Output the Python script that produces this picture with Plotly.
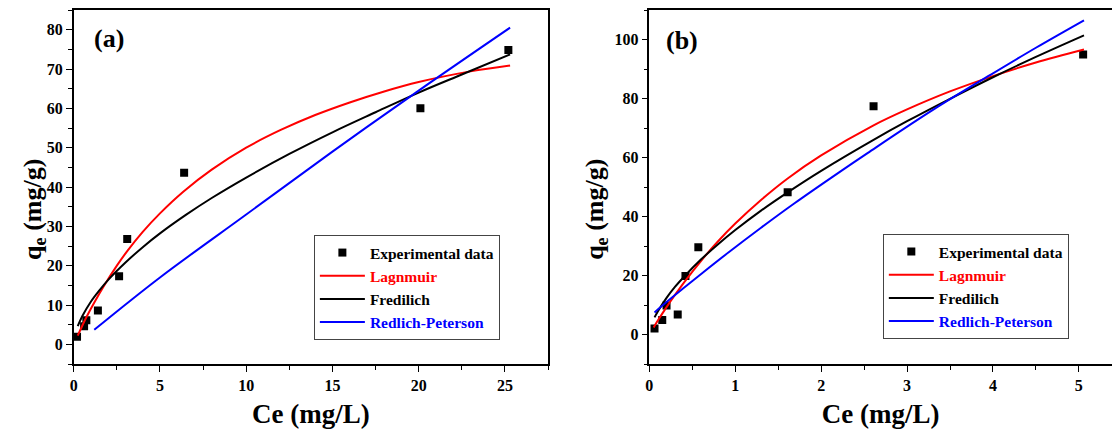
import plotly.graph_objects as go

# ---------------- Panel (a) ----------------
a_exp_ce = [0.19, 0.6, 0.73, 1.4, 2.63, 3.1, 6.4, 20.1, 25.2]
a_exp_qe = [1.9, 4.6, 6.1, 8.6, 17.3, 26.8, 43.6, 60.0, 74.8]

a_lang_ce = [0.23, 0.5, 0.77, 1.2, 1.73, 2.5, 3.1, 4, 5, 6.35, 8, 10, 12, 14, 16, 18, 20, 23, 25.3]
a_lang_qe = [2.2, 4.8, 7.2, 10.7, 14.7, 20.0, 23.7, 28.6, 33.3, 38.8, 44.4, 50.0, 54.5, 58.3, 61.5, 64.3, 66.7, 69.4, 70.9]

a_freu_ce = [0.23, 0.5, 1, 1.5, 2, 3, 4, 5, 6.5, 8, 10, 12.5, 15, 17.5, 20, 22.5, 25.3]
a_freu_qe = [4.6, 7.2, 10.9, 13.8, 16.4, 20.8, 24.7, 28.2, 32.9, 37.2, 42.4, 48.4, 53.9, 59.0, 64.0, 68.6, 73.7]

a_rp_ce = [1.19, 5, 10, 15, 20, 25.3]
a_rp_qe = [3.7, 17.0, 33.0, 49.0, 64.5, 80.5]

# ---------------- Panel (b) ----------------
b_exp_ce = [0.06, 0.15, 0.2, 0.33, 0.42, 0.57, 1.61, 2.61, 5.05]
b_exp_qe = [2.0, 4.9, 9.8, 6.8, 19.8, 29.6, 48.2, 77.4, 94.9]

b_lang_ce = [0.05, 0.1, 0.2, 0.3, 0.42, 0.6, 0.8, 1.0, 1.3, 1.61, 2.0, 2.61, 3.0, 3.5, 4.0, 4.5, 5.06]
b_lang_qe = [2.4, 4.8, 9.3, 13.5, 18.3, 24.9, 31.6, 37.6, 45.6, 52.9, 60.7, 70.9, 76.3, 82.4, 87.6, 92.2, 96.6]

b_freu_ce = [0.06, 0.1, 0.2, 0.3, 0.42, 0.6, 0.8, 1.0, 1.3, 1.61, 2.0, 2.61, 3.0, 3.5, 4.0, 4.5, 5.06]
b_freu_qe = [5.8, 7.9, 12.4, 16.2, 20.1, 25.4, 30.6, 35.4, 42.0, 48.2, 55.5, 66.0, 72.3, 79.9, 87.2, 94.1, 101.4]

b_rp_ce = [0.06, 0.2, 0.41, 0.61, 0.92, 1.3, 1.69, 2.23, 2.54, 3.31, 3.97, 4.5, 5.06]
b_rp_qe = [7.5, 11.0, 16.0, 20.7, 27.8, 36.2, 44.5, 55.4, 61.5, 76.3, 88.0, 97.2, 106.5]

legend_names = [
    "Experimental data",
    "<span style='color:#ff0000'>Lagnmuir</span>",
    "Fredilich",
    "<span style='color:#0000ff'>Redlich-Peterson</span>",
]
x_title = "Ce (mg/L)"
y_title = "q<sub>e</sub> (mg/g)"
panel_labels = ["(a)", "(b)"]

SERIF = "Liberation Serif"
W, H = 1112, 435

fig = go.Figure()

def add_panel(xa, ya, leg, exp_x, exp_y, l_x, l_y, f_x, f_y, r_x, r_y):
    fig.add_trace(go.Scatter(x=exp_x, y=exp_y, mode="markers", name=legend_names[0],
                             marker=dict(symbol="square", size=8, color="black"),
                             xaxis=xa, yaxis=ya, legend=leg))
    fig.add_trace(go.Scatter(x=l_x, y=l_y, mode="lines", name=legend_names[1],
                             line=dict(color="#ff0000", width=2, shape="spline"),
                             xaxis=xa, yaxis=ya, legend=leg))
    fig.add_trace(go.Scatter(x=f_x, y=f_y, mode="lines", name=legend_names[2],
                             line=dict(color="black", width=2, shape="spline"),
                             xaxis=xa, yaxis=ya, legend=leg))
    fig.add_trace(go.Scatter(x=r_x, y=r_y, mode="lines", name=legend_names[3],
                             line=dict(color="#0000ff", width=2, shape="spline"),
                             xaxis=xa, yaxis=ya, legend=leg))

add_panel("x", "y", "legend", a_exp_ce, a_exp_qe, a_lang_ce, a_lang_qe,
          a_freu_ce, a_freu_qe, a_rp_ce, a_rp_qe)
add_panel("x2", "y2", "legend2", b_exp_ce, b_exp_qe, b_lang_ce, b_lang_qe,
          b_freu_ce, b_freu_qe, b_rp_ce, b_rp_qe)

tickfont = dict(family=SERIF, size=16, color="black", weight="bold")
xtitlefont = dict(family=SERIF, size=27, color="black", weight="bold")
ytitlefont = dict(family=SERIF, size=26, color="black", weight="bold")
labelfont = dict(family=SERIF, size=26, color="black", weight="bold")

def axis_common(**kw):
    d = dict(showline=True, linecolor="black", linewidth=1.5, mirror=True,
             ticks="outside", ticklen=6, tickwidth=1.2, tickcolor="black",
             showgrid=False, zeroline=False, tickfont=tickfont)
    d.update(kw)
    return d

legend_font = dict(family=SERIF, size=15.5, color="black", weight="bold")

fig.update_layout(
    width=W, height=H,
    margin=dict(l=0, r=0, t=0, b=0),
    paper_bgcolor="white", plot_bgcolor="white",
    showlegend=True,
    xaxis=axis_common(domain=[70 / W, 546 / W], range=[0, 27.5], dtick=5, tick0=0,
                      minor=dict(dtick=2.5, ticks="outside", ticklen=4, tickcolor="black"),
                      title=dict(text=x_title, font=xtitlefont, standoff=11),
                      anchor="y"),
    yaxis=axis_common(domain=[1 - 364 / H, 1 - 10 / H], range=[-5, 85], dtick=10, tick0=0,
                      minor=dict(dtick=5, ticks="outside", ticklen=4, tickcolor="black"),
                      anchor="x"),
    xaxis2=axis_common(domain=[647.7 / W, 1.0], range=[0, 5.386], dtick=1, tick0=0,
                       minor=dict(dtick=0.5, ticks="outside", ticklen=4, tickcolor="black"),
                       title=dict(text=x_title, font=xtitlefont, standoff=11),
                       anchor="y2"),
    yaxis2=axis_common(domain=[1 - 364 / H, 1 - 10 / H], range=[-10, 110], dtick=20, tick0=0,
                       minor=dict(dtick=10, ticks="outside", ticklen=4, tickcolor="black"),
                       anchor="x2", mirror=False),
    legend=dict(x=311 / W, y=1 - 235 / H, xanchor="left", yanchor="top",
                bordercolor="#444", borderwidth=1, bgcolor="white",
                font=legend_font, tracegroupgap=0, itemwidth=45),
    legend2=dict(x=882 / W, y=1 - 234 / H, xanchor="left", yanchor="top",
                 bordercolor="#444", borderwidth=1, bgcolor="white",
                 font=legend_font, tracegroupgap=0, itemwidth=45),
    annotations=[
        dict(text=panel_labels[0], x=105 / W, y=1 - 39 / H, xref="paper", yref="paper",
             xanchor="center", yanchor="middle", showarrow=False, font=labelfont),
        dict(text=panel_labels[1], x=680 / W, y=1 - 40 / H, xref="paper", yref="paper",
             xanchor="center", yanchor="middle", showarrow=False, font=labelfont),
        dict(text=y_title, x=30 / W, y=1 - 209 / H, xref="paper", yref="paper",
             xanchor="center", yanchor="middle", textangle=-90, showarrow=False,
             font=ytitlefont),
        dict(text=y_title, x=594 / W, y=1 - 209 / H, xref="paper", yref="paper",
             xanchor="center", yanchor="middle", textangle=-90, showarrow=False,
             font=ytitlefont),
    ],
)

fig.write_html("out.html")
